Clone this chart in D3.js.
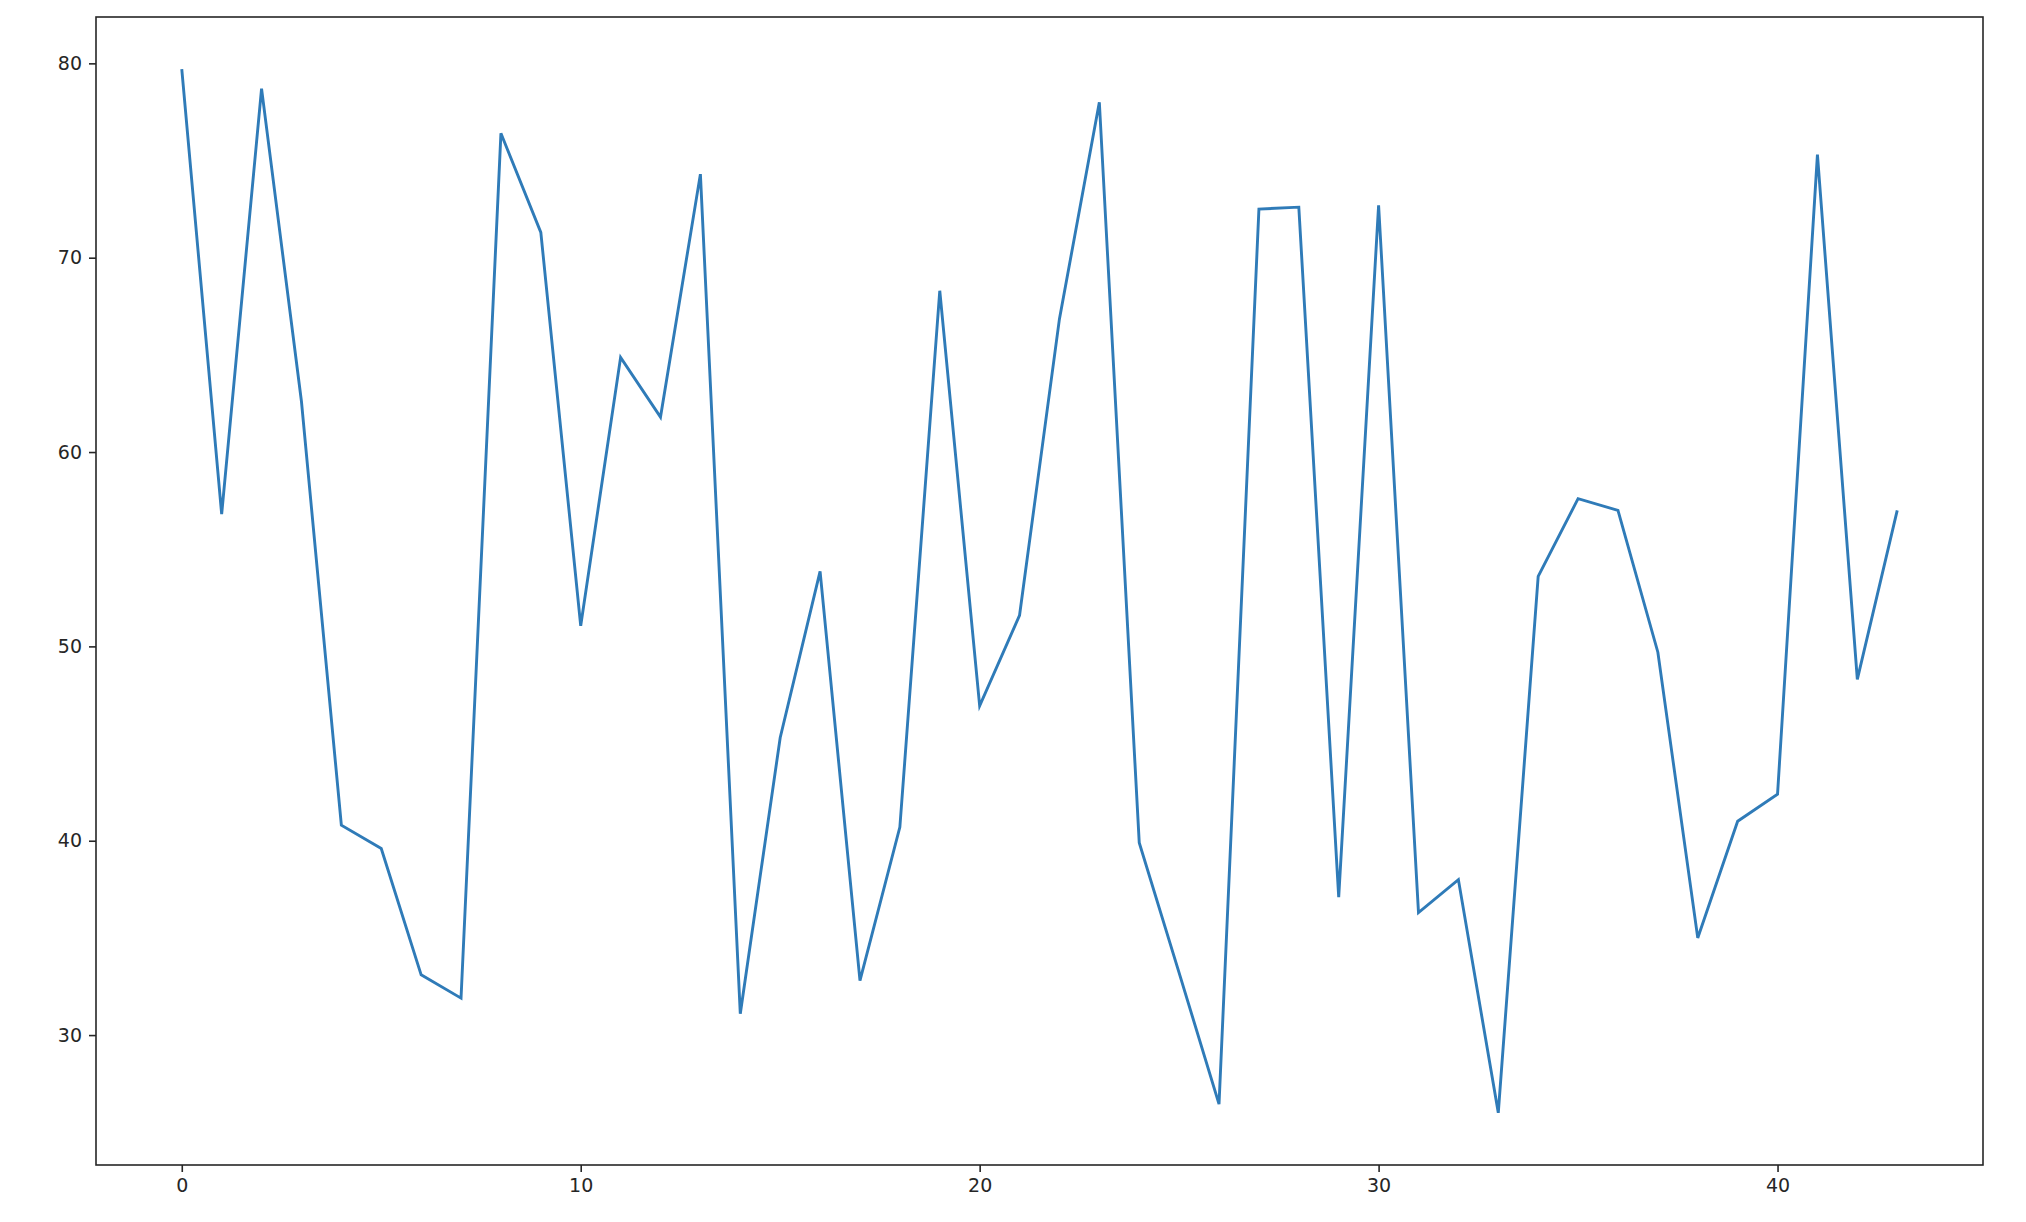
<!DOCTYPE html>
<html lang="en">
    <head>
        <meta charset="utf-8">
        <script type="text/javascript" src="https://cdn.jsdelivr.net/npm/d3@7"></script>
        <title>Line</title>
        <style>
            body { margin: 0; background: #fff; }
            .tick text { font-family: "DejaVu Sans", sans-serif; font-size: 19px; fill: #262626; }
        </style>
    </head>
    <body>
        <script type="text/javascript">
            var w = 2026;
            var h = 1222;

            // values, index 0..43
            var values = [79.7, 56.8, 78.7, 62.6, 40.8, 39.6, 33.1, 31.9, 76.4, 71.3,
                          51.06, 64.87, 61.8, 74.3, 31.1, 45.3, 53.86, 32.8, 40.7, 68.3,
                          46.94, 51.6, 66.85, 78.0, 39.9, 33.2, 26.45, 72.5, 72.6, 37.1,
                          72.7, 36.3, 38.0, 26.0, 53.6, 57.6, 57.0, 49.7, 35.0, 41.0,
                          42.4, 75.3, 48.3, 57.0];
            var xTicks = [0, 10, 20, 30, 40];
            var yTicks = [30, 40, 50, 60, 70, 80];

            // plot area edges (window.top is taken, so use other names)
            var padL = 96, padR = 1983, padT = 17, padB = 1165;

            // matplotlib style 5% margins around the data
            var xMin = 0, xMax = values.length - 1;
            var xPad = (xMax - xMin) * 0.05;
            var yMin = d3.min(values), yMax = d3.max(values);
            var yPad = (yMax - yMin) * 0.05;

            var xScale = d3.scaleLinear()
                            .domain([xMin - xPad, xMax + xPad])
                            .range([padL, padR]);

            var yScale = d3.scaleLinear()
                            .domain([yMin - yPad, yMax + yPad])
                            .range([padB, padT]);

            var svg = d3.select("body")
                        .append("svg")
                        .attr("width", w)
                        .attr("height", h);

            // the line
            var line = d3.line()
                        .x(function(d, i) { return xScale(i); })
                        .y(function(d) { return yScale(d); });

            svg.append("path")
                .datum(values)
                .attr("d", line)
                .attr("fill", "none")
                .attr("stroke", "#2f7bb8")
                .attr("stroke-width", 2.9)
                .attr("stroke-linejoin", "miter");

            // axes
            var xAxis = d3.axisBottom(xScale)
                            .tickValues(xTicks)
                            .tickSize(7)
                            .tickPadding(7)
                            .tickFormat(d3.format("d"));

            var yAxis = d3.axisLeft(yScale)
                            .tickValues(yTicks)
                            .tickSize(7)
                            .tickPadding(7)
                            .tickFormat(d3.format("d"));

            svg.append("g")
                .attr("transform", "translate(0," + padB + ")")
                .call(xAxis);
            svg.append("g")
                .attr("transform", "translate(" + padL + ",0)")
                .call(yAxis);

            svg.selectAll(".domain").remove();
            svg.selectAll(".tick line")
                .attr("stroke", "#262626")
                .attr("stroke-width", 1.6);

            // frame round the plot area
            svg.append("rect")
                .attr("x", padL)
                .attr("y", padT)
                .attr("width", padR - padL)
                .attr("height", padB - padT)
                .attr("fill", "none")
                .attr("stroke", "#262626")
                .attr("stroke-width", 1.6);
        </script>
    </body>
</html>
